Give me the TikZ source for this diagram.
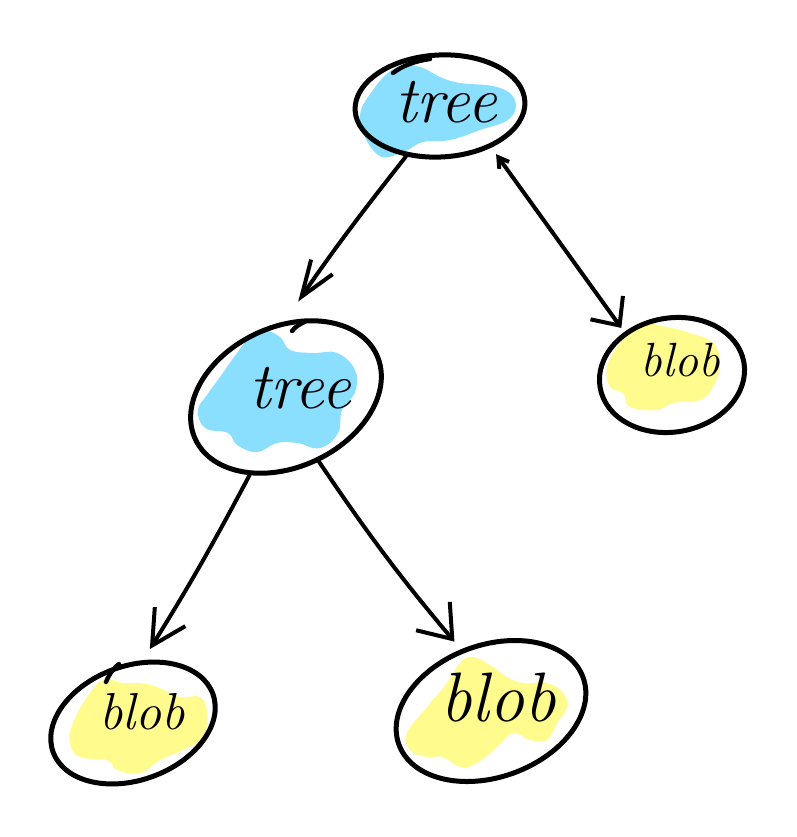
\documentclass[tikz,border=0pt]{standalone}
\usetikzlibrary{arrows.meta,shapes.geometric}
\definecolor{cBlue}{RGB}{138,223,255}
\definecolor{cYellow}{RGB}{255,251,140}
\begin{document}
\begin{tikzpicture}[x=1pt,y=-1pt,
  ell/.style={ellipse, draw, line width=5pt, inner sep=0pt},
  lbl/.style={inner sep=0pt},
  tail/.style={line width=4.4pt, line cap=round},
  edge/.style={line width=4pt, line cap=round, line join=round}]
\useasboundingbox[fill=white] (0,0) rectangle (796,837);
% colour blobs
\fill[cBlue] plot[smooth cycle, tension=0.7] coordinates {(397,67) (420,67) (440,77) (460,83) (497,87) (515,100) (509,119) (480,130) (450,140) (423,142) (403,152) (378,155) (360,120) (373,90)};
\fill[cBlue] plot[smooth cycle, tension=0.7] coordinates {(263,330) (280,337) (290,350) (313,353) (337,353) (355,370) (355,392) (342,410) (338,433) (320,448) (297,443) (277,443) (257,452) (237,445) (228,433) (205,428) (198,410) (207,395) (220,377) (237,353) (250,337)};
\fill[cYellow] plot[smooth cycle, tension=0.7] coordinates {(643,323) (667,327) (690,333) (713,343) (720,363) (713,387) (700,400) (673,403) (657,410) (630,407) (623,393) (610,387) (607,367) (617,347) (630,333)};
\fill[cYellow] plot[smooth cycle, tension=0.7] coordinates {(103,680) (123,683) (140,683) (157,687) (180,697) (200,697) (207,713) (203,737) (183,750) (160,760) (140,773) (117,770) (107,760) (80,757) (70,743) (73,723) (87,697)};
\fill[cYellow] plot[smooth cycle, tension=0.7] coordinates {(473,657) (493,667) (507,677) (523,683) (547,683) (563,693) (567,707) (557,723) (547,740) (530,740) (513,733) (497,747) (477,763) (460,767) (443,757) (427,757) (410,750) (407,733) (427,707) (447,683) (460,663)};
% nodes
\node[ell, minimum width=170pt, minimum height=102pt, rotate=3] (t1) at (440,106) {};
\node[ell, minimum width=200pt, minimum height=140pt, rotate=25] (t2) at (286,397) {};
\node[ell, minimum width=146pt, minimum height=114pt, rotate=10] (b1) at (672,375) {};
\node[ell, minimum width=170pt, minimum height=114pt, rotate=20] (b2) at (133,723) {};
\node[ell, minimum width=196pt, minimum height=132pt, rotate=20] (b3) at (491,711) {};
% hand-drawn overshoots of the outlines
\draw[tail] (430,59) .. controls (415,61) and (402,66) .. (393,73);
\draw[tail] (292,331) .. controls (298,323) and (310,321) .. (302,322);
\draw[tail] (106,682) .. controls (110,672) and (116,666) .. (119,664);
% labels
\node[lbl, font=\itshape\fontsize{66}{70}\selectfont] (t1l) at (446,102) {tree};
\node[lbl, font=\itshape\fontsize{66}{70}\selectfont] (t2l) at (300,388) {tree};
\node[lbl, font=\itshape\fontsize{48}{52}\selectfont] (b1l) at (680,360) {blob};
\node[lbl, font=\itshape\fontsize{52}{56}\selectfont] (b2l) at (142,712) {blob};
\node[lbl, font=\itshape\fontsize{70}{74}\selectfont] (b3l) at (498,698) {blob};
% connectors
\draw[edge, -{Straight Barb[length=36pt,width=26pt,line width=4pt]}, shorten >=24pt] (t1.233) to[bend right=2] (t2.66);
\draw[edge, {Straight Barb[length=10pt,width=12pt,line width=4pt]}-{Straight Barb[length=22pt,width=40pt,line width=4pt]}, shorten <=8pt, shorten >=5pt] (t1.318) -- (b1.128);
\draw[edge, -{Straight Barb[length=34pt,width=36pt,line width=4pt]}, shorten >=13pt] (t2.220) to[bend left=2] (b2.61);
\draw[edge, -{Straight Barb[length=30pt,width=44pt,line width=4pt]}, shorten >=10pt] (t2.272) to[bend right=3] (b3.96);
\end{tikzpicture}
\end{document}
